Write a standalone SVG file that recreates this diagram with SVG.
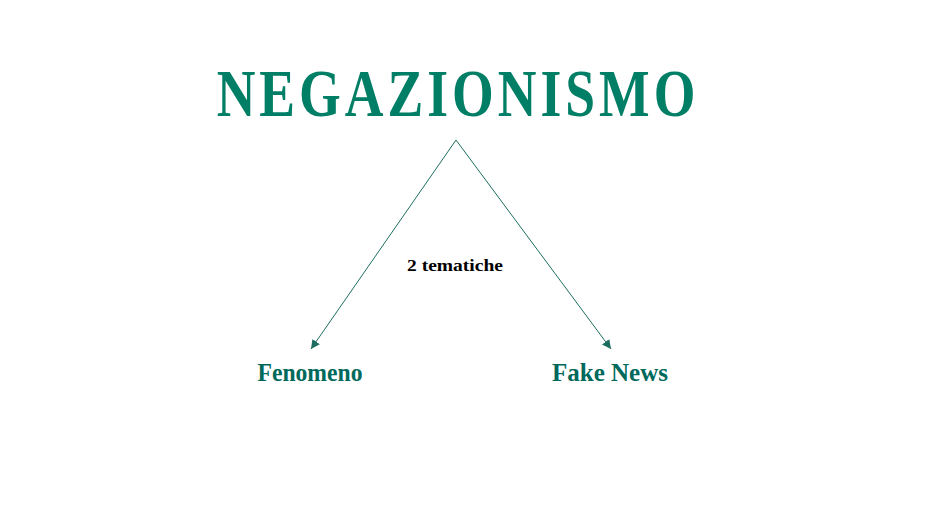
<svg xmlns="http://www.w3.org/2000/svg" width="949" height="531" viewBox="0 0 949 531">
<style>
.t{font-family:"Liberation Serif","DejaVu Serif",serif;font-weight:bold;text-anchor:middle}
.title{fill:#007F66;font-size:67px;letter-spacing:5px}
.node{fill:#00695C;font-size:25px}
.lbl{fill:#000;font-size:17px}
.c{stroke:#1E6E60;stroke-width:1;fill:none}
</style>
<defs>
<marker id="ah" viewBox="0 0 10 10" refX="10" refY="5" markerWidth="9" markerHeight="9" markerUnits="userSpaceOnUse" orient="auto">
<path d="M0,0 L10,5 L0,10 z" fill="#1E6E60"/>
</marker>
</defs>
<rect width="949" height="531" fill="#fff"/>
<g id="title"><text class="t title" transform="translate(458,116) scale(0.8,1)" x="0" y="0">NEGAZIONISMO</text></g>
<g id="connectors">
<line class="c" x1="456" y1="140" x2="311" y2="349" marker-end="url(#ah)"/>
<line class="c" x1="456" y1="140" x2="611" y2="349" marker-end="url(#ah)"/>
<text class="t lbl" x="455" y="271" textLength="96" lengthAdjust="spacingAndGlyphs">2 tematiche</text>
</g>
<g id="fenomeno"><text class="t node" x="310" y="381" textLength="105" lengthAdjust="spacingAndGlyphs">Fenomeno</text></g>
<g id="fakenews"><text class="t node" x="610" y="381" textLength="116" lengthAdjust="spacingAndGlyphs">Fake News</text></g>
</svg>
